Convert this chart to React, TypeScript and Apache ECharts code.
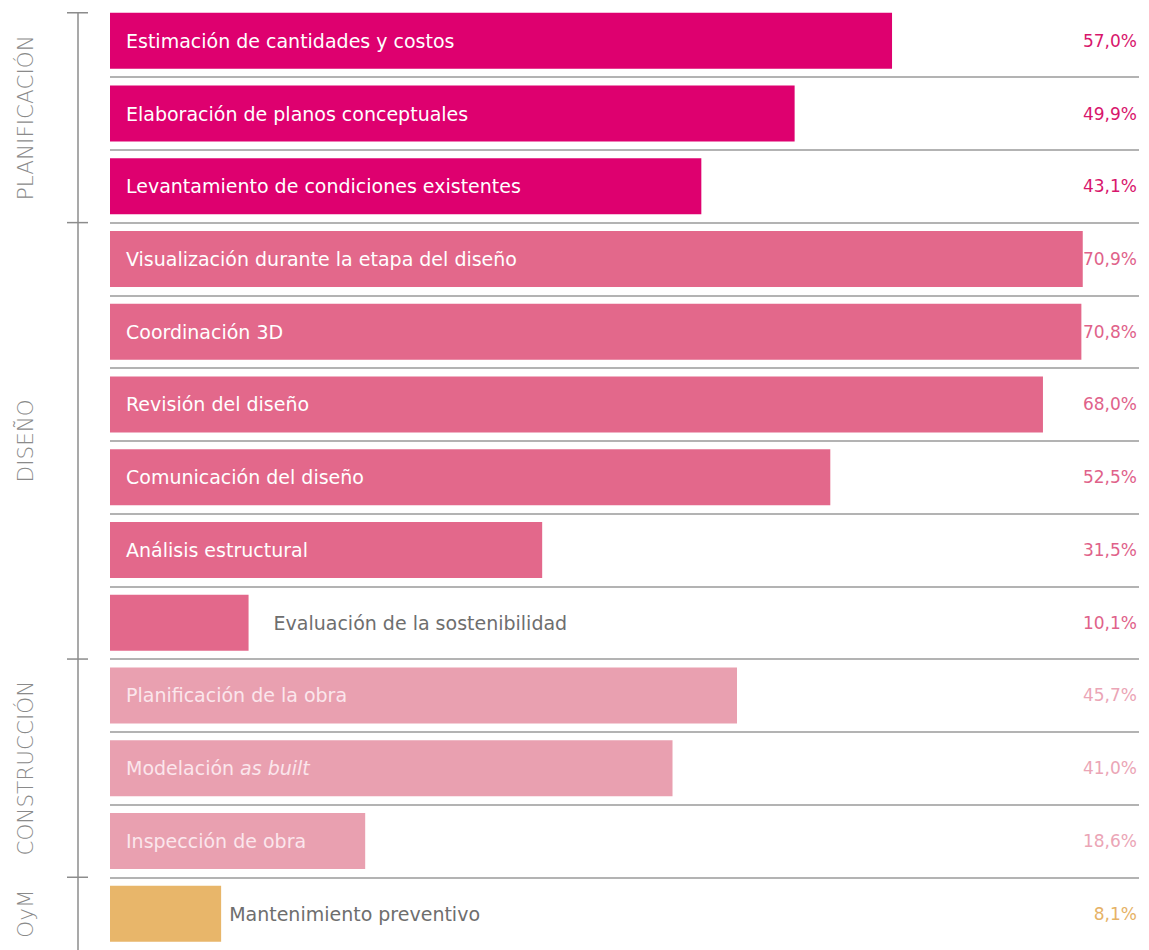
import React, { useEffect, useRef } from 'react';
import * as echarts from 'echarts';

const categories = [
  'Estimación de cantidades y costos',
  'Elaboración de planos conceptuales',
  'Levantamiento de condiciones existentes',
  'Visualización durante la etapa del diseño',
  'Coordinación 3D',
  'Revisión del diseño',
  'Comunicación del diseño',
  'Análisis estructural',
  'Evaluación de la sostenibilidad',
  'Planificación de la obra',
  'Modelación as built',
  'Inspección de obra',
  'Mantenimiento preventivo',
];
const values = [57.0, 49.9, 43.1, 70.9, 70.8, 68.0, 52.5, 31.5, 10.1, 45.7, 41.0, 18.6, 8.1];
const stages = ['PLANIFICACIÓN', 'DISEÑO', 'CONSTRUCCIÓN', 'OyM'];
const stageFirstRow = [0, 3, 9, 12];
const stageLastRow = [2, 8, 11, 12];
const outsideRows = ['Evaluación de la sostenibilidad', 'Mantenimiento preventivo'];
const outsideDistances = [25, 8];

const stageColors = ['#DE006F', '#E3688B', '#E9A0B0', '#E8B66A'];
const stageTextColors = ['#D8166C', '#E0628A', '#EBA5B6', '#E6B266'];
const insideLabelColors = ['#FFFFFF', '#FFFFFF', '#FBE6EC', '#FFFFFF'];

const FONT = "'DejaVu Sans', 'Open Sans', sans-serif";
const LABEL_SIZE = 19;
const BAR_W = 56;

function stageOf(i: number) {
  for (let k = 0; k < stages.length; k++) {
    if (i >= stageFirstRow[k] && i <= stageLastRow[k]) return k;
  }
  return 0;
}

export default function App() {
  const ref = useRef<HTMLDivElement>(null);
  useEffect(() => {
    if (!ref.current) return;
    const chart = echarts.init(ref.current, null, { renderer: 'svg' });

    const barData = values.map((v, i) => {
      const s = stageOf(i);
      const oi = outsideRows.indexOf(categories[i]);
      const color = oi >= 0 ? '#6E6E6E' : insideLabelColors[s];
      return {
        value: v,
        itemStyle: { color: stageColors[s] },
        label:
          oi >= 0
            ? { position: 'right', distance: outsideDistances[oi], color }
            : {
                position: 'insideLeft',
                distance: 16,
                color,
                rich: {
                  n: { color, fontSize: LABEL_SIZE, fontFamily: FONT },
                  it: { color, fontSize: LABEL_SIZE, fontFamily: FONT, fontStyle: 'italic' },
                },
              },
      };
    });

    const groupData = stages.map((_, k) => [0, stageFirstRow[k], stageLastRow[k], k]);

    const option: any = {
      animation: false,
      grid: { left: 110, right: 10, top: 4.4, height: 952, containLabel: false },
      xAxis: { type: 'value', min: 0, max: 75, show: false },
      yAxis: [
        {
          type: 'category',
          data: categories,
          inverse: true,
          axisLine: { show: false },
          axisTick: { show: false },
          axisLabel: { show: false },
          splitLine: {
            show: true,
            interval: 0,
            showMinLine: false,
            showMaxLine: false,
            lineStyle: { color: '#9A9A9A', width: 1.6 },
          },
        },
        {
          type: 'category',
          data: categories,
          inverse: true,
          position: 'right',
          axisLine: { show: false },
          axisTick: { show: false },
          splitLine: { show: false },
          axisLabel: {
            inside: true,
            margin: 2,
            interval: 0,
            fontSize: 17,
            fontFamily: FONT,
            formatter: (_v: string, idx: number) => values[idx].toFixed(1).replace('.', ',') + '%',
            color: (_v: string, idx: number) => stageTextColors[stageOf(idx)],
          },
        },
      ],
      series: [
        {
          type: 'bar',
          yAxisIndex: 0,
          barWidth: BAR_W,
          data: barData,
          label: {
            show: true,
            fontSize: LABEL_SIZE,
            fontFamily: FONT,
            formatter: (p: any) =>
              p.name === 'Modelación as built' ? '{n|Modelación }{it|as built}' : p.name,
          },
        },
        {
          type: 'custom',
          yAxisIndex: 0,
          clip: false,
          encode: { x: 0, y: 1 },
          data: groupData,
          renderItem: (params: any, api: any) => {
            const first = api.value(1);
            const last = api.value(2);
            const k = api.value(3);
            const band = api.size([0, 1])[1];
            const yFirst = api.coord([0, first])[1];
            const yLast = api.coord([0, last])[1];
            const top = k === 0 ? yFirst - BAR_W / 2 : yFirst - band / 2;
            const bottom = yLast + band / 2;
            const x = params.coordSys.x - 32;
            const ls = { stroke: '#8C8C8C', lineWidth: 1.5 };
            return {
              type: 'group',
              children: [
                { type: 'line', shape: { x1: x, y1: top, x2: x, y2: bottom }, style: ls },
                { type: 'line', shape: { x1: x - 11, y1: top, x2: x + 10, y2: top }, style: ls },
                {
                  type: 'text',
                  x: x - 53,
                  y: (top + bottom) / 2,
                  rotation: Math.PI / 2,
                  style: {
                    text: stages[k],
                    fill: '#8A8A8A',
                    fontSize: 21.5,
                    fontFamily: FONT,
                    fontWeight: 300,
                    align: 'center',
                    verticalAlign: 'middle',
                  },
                },
              ],
            };
          },
        },
      ],
    };
    chart.setOption(option);
    return () => chart.dispose();
  }, []);
  return (
    <div
      ref={ref}
      style={{ position: 'fixed', left: 0, top: 0, width: 1149, height: 950, background: '#FFFFFF' }}
    />
  );
}
